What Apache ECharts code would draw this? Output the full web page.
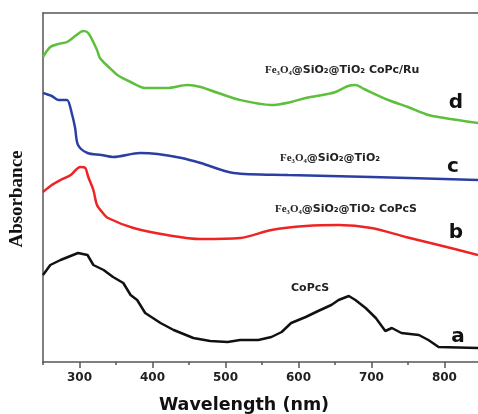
<!DOCTYPE html>
<html><head><meta charset="utf-8">
<script src="https://cdn.jsdelivr.net/npm/echarts@6/dist/echarts.min.js"></script>
<style>html,body{margin:0;padding:0;background:#fff}#c{width:478px;height:414px}</style>
</head><body><div id="c"></div>
<script>
// Curve d: Fe3O4@SiO2@TiO2 CoPc/Ru (green)
const wlD  = [250, 260, 271, 283, 296, 305, 312, 324, 328, 340, 352, 370, 390, 420, 448, 466, 490, 520, 563, 590, 610, 640, 651, 668, 678, 690, 723, 750, 778, 800, 846];
const absD = [3.05,3.15,3.18,3.20,3.27,3.31,3.29,3.12,3.04,2.95,2.87,2.80,2.74,2.74,2.77,2.75,2.69,2.62,2.57,2.60,2.64,2.68,2.70,2.76,2.77,2.73,2.62,2.55,2.47,2.44,2.39];
// Curve c: Fe3O4@SiO2@TiO2 (blue)
const wlC  = [250, 262, 271, 278, 283, 290, 294, 298, 311, 330, 346, 383, 407, 440, 466, 511, 586, 700, 846];
const absC = [2.69,2.66,2.62,2.62,2.62,2.47,2.34,2.17,2.09,2.07,2.05,2.09,2.08,2.04,1.99,1.89,1.87,1.85,1.82];
// Curve b: Fe3O4@SiO2@TiO2 CoPcS (red)
const wlB  = [250, 262, 274, 288, 301, 308, 312, 319, 324, 332, 339, 374, 420, 466, 520, 563, 610, 655, 700, 747, 792, 846];
const absB = [1.70,1.77,1.82,1.87,1.95,1.94,1.85,1.72,1.57,1.49,1.44,1.34,1.27,1.23,1.24,1.32,1.36,1.37,1.34,1.25,1.17,1.07];
// Curve a: CoPcS (black)
const wlA  = [250, 260, 274, 298, 311, 319, 333, 346, 360, 370, 379, 390, 411, 429, 456, 479, 503, 520, 545, 563, 577, 590, 610, 627, 645, 655, 669, 678, 692, 706, 719, 728, 741, 765, 778, 792, 846];
const absA = [0.87,0.97,1.02,1.09,1.07,0.97,0.92,0.85,0.79,0.67,0.62,0.49,0.39,0.32,0.24,0.21,0.20,0.22,0.22,0.25,0.30,0.39,0.45,0.51,0.57,0.62,0.66,0.62,0.54,0.44,0.31,0.34,0.29,0.27,0.22,0.15,0.14];
// Axis ticks
const majorTicks = [300, 400, 500, 600, 700, 800];
const minorTicks = [250, 350, 450, 550, 650, 750];

const zip = (xs, ys) => xs.map((x, i) => [x, ys[i]]);
const chart = echarts.init(document.getElementById('c'), null, {renderer: 'canvas'});
const axisCol = '#555';
const mkLine = (name, xs, ys, color, smooth) => ({
  name, type: 'line', data: zip(xs, ys), showSymbol: false, smooth,
  lineStyle: {color, width: 2.5}, itemStyle: {color}, animation: false
});
const sans = 'DejaVu Sans';
const serif = 'Liberation Serif';
const labelRich = (rest) => ({
  rich: {
    s: {fontFamily: serif, fontSize: 11, fontWeight: 'bold', fill: '#222'},
    t: {fontFamily: sans, fontSize: 11, fontWeight: 'bold', fill: '#222'}
  },
  text: '{s|Fe₃O₄}{t|' + rest + '}'
});
const txt = (x, y, style) => ({type: 'text', x, y, style: Object.assign({textVerticalAlign: 'middle', fill: '#222'}, style), z: 10});

chart.setOption({
  animation: false,
  grid: {left: 43, right: 0, top: 13, bottom: 52, show: false},
  xAxis: [{
    type: 'value', min: 250, max: 846, position: 'bottom',
    axisLine: {show: true, lineStyle: {color: axisCol, width: 1.5}},
    axisTick: {show: true, customValues: majorTicks, length: 6, inside: false, lineStyle: {color: axisCol, width: 1.5}},
    axisLabel: {show: true, customValues: majorTicks, margin: 10, fontFamily: sans, fontWeight: 'bold', fontSize: 12, color: '#222'},
    splitLine: {show: false}
  }, {
    type: 'value', min: 250, max: 846, position: 'bottom',
    axisLine: {show: false},
    axisTick: {show: true, customValues: minorTicks, length: 3, lineStyle: {color: axisCol, width: 1.5}},
    axisLabel: {show: false},
    splitLine: {show: false}
  }, {
    type: 'value', min: 250, max: 846, position: 'top',
    axisLine: {show: true, lineStyle: {color: axisCol, width: 1.5}},
    axisTick: {show: false}, axisLabel: {show: false}, splitLine: {show: false}
  }],
  yAxis: {
    type: 'value', min: 0, max: 3.49,
    axisLine: {show: true, lineStyle: {color: axisCol, width: 1.5}},
    axisTick: {show: false}, axisLabel: {show: false}, splitLine: {show: false}
  },
  series: [
    mkLine('d', wlD, absD, '#5dbf3c', 0.3),
    mkLine('c', wlC, absC, '#2b3fa3', 0.3),
    mkLine('b', wlB, absB, '#ee2424', 0.3),
    mkLine('a', wlA, absA, '#111111', false)
  ],
  graphic: [
    txt(265, 70, labelRich('@SiO₂@TiO₂ CoPc/Ru')),
    txt(280, 158, labelRich('@SiO₂@TiO₂')),
    txt(275, 209, labelRich('@SiO₂@TiO₂ CoPcS')),
    txt(291, 288, {text: 'CoPcS', fontFamily: sans, fontSize: 11, fontWeight: 'bold'}),
    txt(456, 103, {text: 'd', fontFamily: sans, fontSize: 20, fontWeight: 'bold', textAlign: 'center', fill: '#111'}),
    txt(453, 167, {text: 'c', fontFamily: sans, fontSize: 20, fontWeight: 'bold', textAlign: 'center', fill: '#111'}),
    txt(456, 233, {text: 'b', fontFamily: sans, fontSize: 20, fontWeight: 'bold', textAlign: 'center', fill: '#111'}),
    txt(458, 337, {text: 'a', fontFamily: sans, fontSize: 20, fontWeight: 'bold', textAlign: 'center', fill: '#111'}),
    {type: 'text', x: 17, y: 199, rotation: Math.PI / 2, z: 10,
     style: {text: 'Absorbance', fontFamily: serif, fontSize: 19, fontWeight: 'bold', fill: '#111', textAlign: 'center', textVerticalAlign: 'middle'}},
    txt(244, 405, {text: 'Wavelength (nm)', fontFamily: sans, fontSize: 17.5, fontWeight: 'bold', textAlign: 'center', fill: '#111'})
  ]
});
</script>
</body></html>
